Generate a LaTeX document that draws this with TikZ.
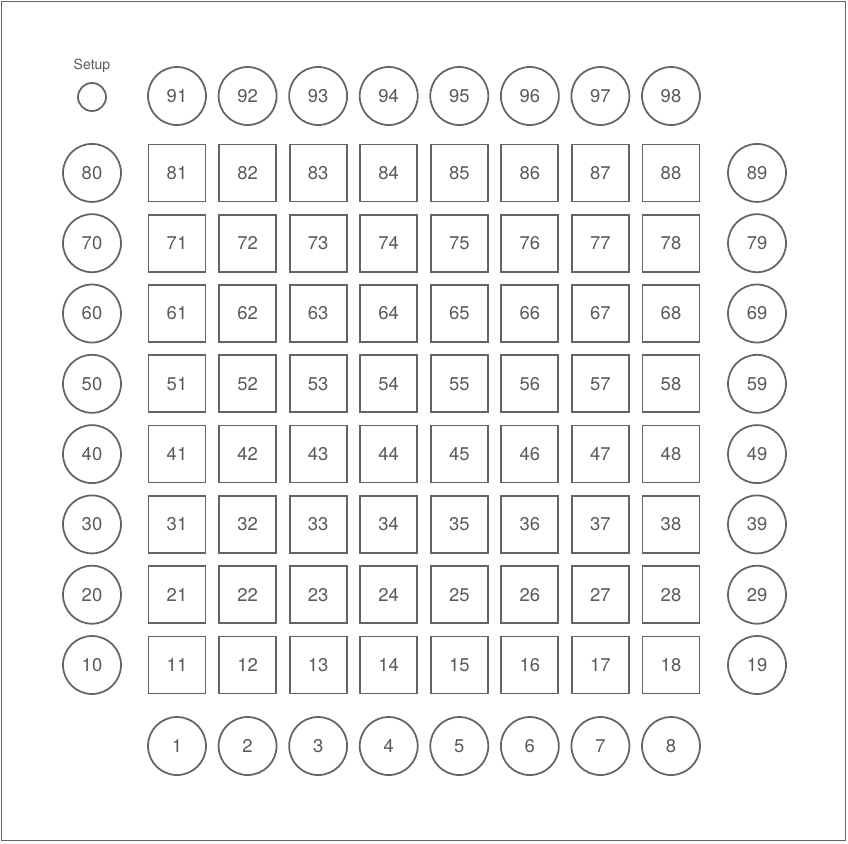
\documentclass[tikz,border=0pt]{standalone}
\usepackage{fontspec}
\setmainfont{TeX Gyre Heros}
\definecolor{padline}{RGB}{100,100,100}
\definecolor{padtext}{RGB}{90,90,90}
\tikzset{
  pad/.style={draw=padline, line width=1pt, minimum size=57*0.02cm, inner sep=0pt,
    text=padtext, font=\fontsize{10.5}{12}\selectfont},
  padsquare/.style={pad, rectangle},
  padround/.style={pad, circle, minimum size=58*0.02cm},
}
\begin{document}
\begin{tikzpicture}[x=0.02cm, y=-0.02cm]

% Page and frame
\useasboundingbox (0,0) rectangle (848,843);
\draw[padline, line width=0.9pt] (1.5,1.5) rectangle (845.5,840.5);

% Setup button
\node[padround, minimum size=28*0.02cm] (setup) at (92,97) {};
\node[text=padtext, font=\fontsize{8}{9}\selectfont] (setuplabel) at (92,66) {Setup};

% Grid of 8 x 8 pads
\foreach \r in {1,...,8}
  \foreach \c in {1,...,8}
    \node[padsquare] (pad\r\c) at ({177+70.57*(\c-1)},{665-70.3*(\r-1)}) {\r\c};

% Top and bottom round buttons
\foreach \c in {1,...,8} {
  \node[padround] (top\c) at ({177+70.57*(\c-1)},96) {9\c};
  \node[padround] (bot\c) at ({177+70.57*(\c-1)},746) {\c};
}

% Left and right round buttons
\foreach \r in {1,...,8} {
  \node[padround] (left\r) at (92,{665-70.3*(\r-1)}) {\r0};
  \node[padround] (right\r) at (757,{665-70.3*(\r-1)}) {\r9};
}

\end{tikzpicture}
\end{document}
